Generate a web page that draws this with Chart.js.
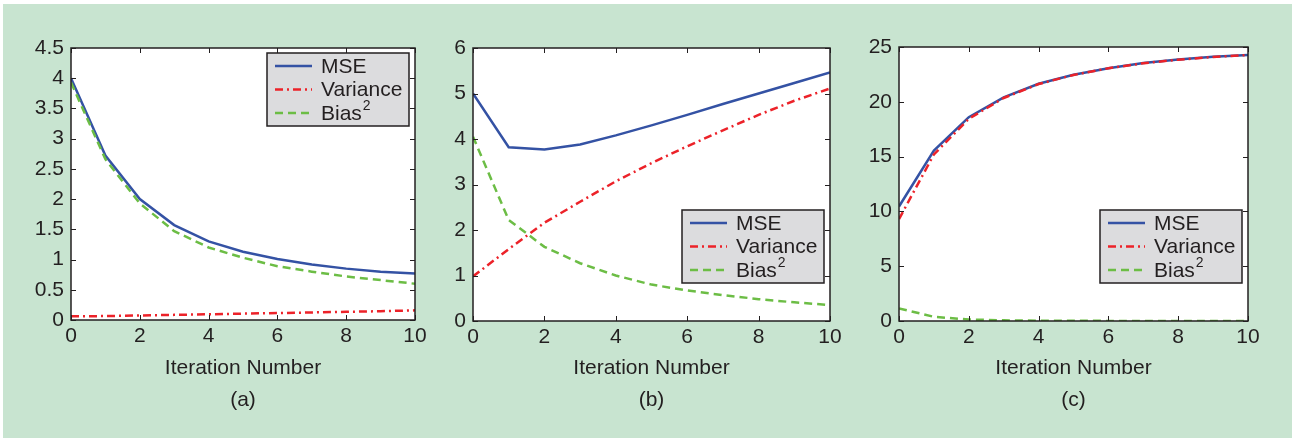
<!DOCTYPE html>
<html>
<head>
<meta charset="utf-8">
<script src="https://cdn.jsdelivr.net/npm/chart.js@4.4.1/dist/chart.umd.min.js"></script>
<style>
  html, body { margin: 0; padding: 0; background: #fff; }
  #wrap { position: relative; width: 1296px; height: 439px; overflow: hidden; }
  #bg { position: absolute; left: 3px; top: 4px; width: 1289px; height: 434px; background: #c8e4d0; }
  canvas { position: absolute; top: 0; }
</style>
</head>
<body>
<div id="wrap">
  <div id="bg"></div>
  <canvas id="chartA" width="430" height="439" style="left:0px"></canvas>
  <canvas id="chartB" width="430" height="439" style="left:430px"></canvas>
  <canvas id="chartC" width="436" height="439" style="left:860px"></canvas>
</div>
<script>
const iterations = [0, 1, 2, 3, 4, 5, 6, 7, 8, 9, 10];

// panel (a)
const mseA  = [4.00, 2.72, 2.00, 1.57, 1.30, 1.13, 1.01, 0.92, 0.85, 0.80, 0.77];
const varA  = [0.06, 0.065, 0.075, 0.085, 0.095, 0.105, 0.115, 0.125, 0.135, 0.145, 0.16];
const biasA = [3.93, 2.66, 1.93, 1.47, 1.20, 1.03, 0.89, 0.80, 0.72, 0.66, 0.60];

// panel (b)
const mseB  = [5.00, 3.82, 3.77, 3.88, 4.08, 4.30, 4.53, 4.77, 5.00, 5.23, 5.46];
const varB  = [0.98, 1.58, 2.16, 2.62, 3.07, 3.47, 3.84, 4.19, 4.53, 4.84, 5.11];
const biasB = [4.05, 2.22, 1.63, 1.27, 1.00, 0.80, 0.67, 0.57, 0.48, 0.41, 0.35];

// panel (c)
const mseC  = [10.45, 15.55, 18.60, 20.40, 21.65, 22.47, 23.07, 23.53, 23.85, 24.10, 24.28];
const varC  = [9.30, 15.20, 18.45, 20.35, 21.62, 22.45, 23.06, 23.52, 23.84, 24.09, 24.27];
const biasC = [1.15, 0.38, 0.14, 0.06, 0.03, 0.02, 0.01, 0.01, 0.005, 0.005, 0.005];

const INK = '#231f20';
const FONT = '"Liberation Sans", Arial, Helvetica, sans-serif';

function pts(ys) {
  return iterations.map((x, i) => ({ x: x, y: ys[i] }));
}

// white plot area, box with inside ticks, and a MATLAB style legend
const framePlugin = {
  id: 'frame',
  beforeDraw(chart) {
    const { ctx, chartArea: a } = chart;
    ctx.save();
    ctx.fillStyle = '#fff';
    ctx.fillRect(a.left, a.top, a.right - a.left, a.bottom - a.top);
    ctx.restore();
  },
  afterDatasetsDraw(chart, args, opts) {
    const { ctx, chartArea: a, scales: { x, y } } = chart;
    const tl = 5;
    ctx.save();
    ctx.strokeStyle = INK;
    ctx.lineWidth = 1;
    ctx.beginPath();
    x.ticks.forEach(t => {
      const px = Math.round(x.getPixelForValue(t.value)) + 0.5;
      ctx.moveTo(px, a.bottom); ctx.lineTo(px, a.bottom - tl);
      ctx.moveTo(px, a.top); ctx.lineTo(px, a.top + tl);
    });
    y.ticks.forEach(t => {
      const py = Math.round(y.getPixelForValue(t.value)) + 0.5;
      ctx.moveTo(a.left, py); ctx.lineTo(a.left + tl, py);
      ctx.moveTo(a.right, py); ctx.lineTo(a.right - tl, py);
    });
    ctx.stroke();
    ctx.lineWidth = 1.5;
    ctx.strokeRect(a.left, a.top, a.right - a.left, a.bottom - a.top);

    // legend
    const bw = 142, bh = 73;
    const lx = a.right - opts.right - bw;
    const ly = opts.top != null ? a.top + opts.top : a.bottom - opts.bottom - bh;
    ctx.fillStyle = '#dcdcde';
    ctx.fillRect(lx, ly, bw, bh);
    ctx.strokeStyle = INK;
    ctx.lineWidth = 1.5;
    ctx.strokeRect(lx, ly, bw, bh);
    chart.data.datasets.forEach((ds, i) => {
      const yy = ly + 13 + i * 23.5;
      ctx.setLineDash(ds.borderDash || []);
      ctx.strokeStyle = ds.borderColor;
      ctx.lineWidth = ds.borderWidth;
      ctx.beginPath();
      ctx.moveTo(lx + 8, yy);
      ctx.lineTo(lx + 45, yy);
      ctx.stroke();
      ctx.setLineDash([]);
      ctx.fillStyle = INK;
      ctx.font = '21px ' + FONT;
      ctx.textBaseline = 'middle';
      ctx.textAlign = 'left';
      ctx.fillText(ds.label, lx + 54, yy + 1);
      if (ds.sup) {
        const w = ctx.measureText(ds.label).width;
        ctx.font = '14px ' + FONT;
        ctx.fillText(ds.sup, lx + 54 + w + 1, yy - 7);
      }
    });
    ctx.restore();
  }
};

function makeChart(id, o) {
  const canvas = document.getElementById(id);
  const H = canvas.height;
  return new Chart(canvas.getContext('2d'), {
    type: 'line',
    data: {
      datasets: [
        { label: 'MSE', data: pts(o.mse), borderColor: '#3452a4', borderWidth: 2.5, order: 2 },
        { label: 'Variance', data: pts(o.variance), borderColor: '#ec2229', borderWidth: 2.5,
          borderDash: [8, 4, 2, 4], order: 1 },
        { label: 'Bias', sup: '2', data: pts(o.bias), borderColor: '#6cbd45', borderWidth: 2.5,
          borderDash: [8, 5], order: 0 }
      ]
    },
    options: {
      responsive: false,
      animation: false,
      devicePixelRatio: 1,
      elements: { point: { radius: 0 }, line: { tension: 0, borderCapStyle: 'butt' } },
      layout: { padding: { left: 0, right: o.padRight, top: o.top, bottom: 0 } },
      scales: {
        x: {
          type: 'linear', min: 0, max: 10,
          grid: { display: false, drawTicks: false },
          border: { display: false },
          ticks: { stepSize: 2, padding: 4, color: INK, font: { family: FONT, size: 21 },
            callback: v => String(v) },
          title: {
            display: true, text: ['Iteration Number', o.tag], color: INK,
            font: { family: FONT, size: 21, lineHeight: 32 / 21 },
            padding: { top: 0, bottom: 23 }
          },
          afterFit(s) { s.height = H - o.bottom; s.paddingLeft = 0; s.paddingRight = 0; }
        },
        y: {
          min: 0, max: o.ymax,
          grid: { display: false, drawTicks: false },
          border: { display: false },
          ticks: { stepSize: o.step, padding: 7, color: INK, font: { family: FONT, size: 21 },
            callback: v => String(v) },
          afterFit(s) { s.width = o.left; s.paddingTop = 0; s.paddingBottom = 0; }
        }
      },
      plugins: {
        legend: { display: false },
        tooltip: { enabled: false },
        frame: o.legend
      }
    },
    plugins: [framePlugin]
  });
}

makeChart('chartA', { mse: mseA, variance: varA, bias: biasA, ymax: 4.5, step: 0.5, tag: '(a)',
  left: 71, padRight: 15, top: 48, bottom: 320, legend: { right: 6, top: 5 } });
makeChart('chartB', { mse: mseB, variance: varB, bias: biasB, ymax: 6, step: 1, tag: '(b)',
  left: 43, padRight: 30, top: 48, bottom: 321, legend: { right: 6, bottom: 38 } });
makeChart('chartC', { mse: mseC, variance: varC, bias: biasC, ymax: 25, step: 5, tag: '(c)',
  left: 39, padRight: 48, top: 47, bottom: 321, legend: { right: 6, bottom: 38 } });
</script>
</body>
</html>
